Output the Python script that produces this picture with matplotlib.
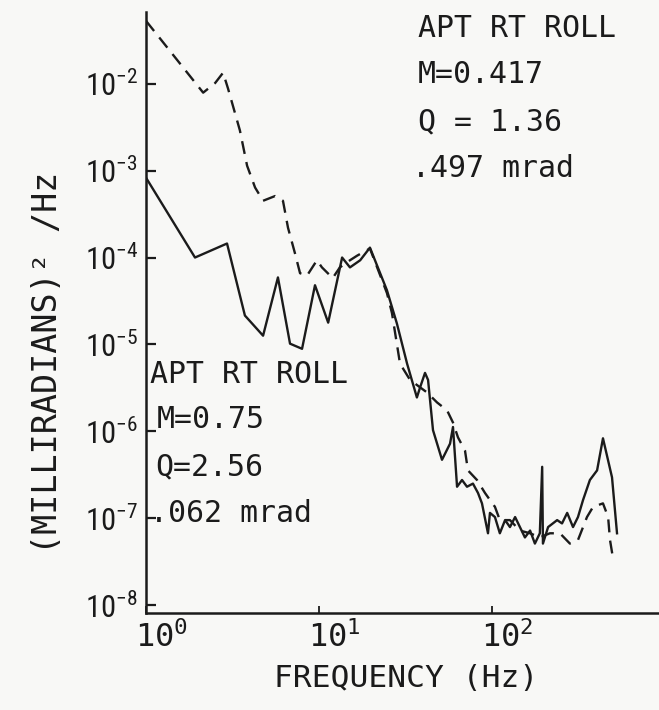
import matplotlib
matplotlib.use("Agg")
import matplotlib.pyplot as plt
import matplotlib.transforms as mtransforms
from matplotlib import font_manager
from matplotlib.ticker import NullLocator

# solid curve: M=0.75 run
freq_solid = [1.0, 1.92, 2.94, 3.73, 4.75, 5.79, 6.80, 7.98, 9.48, 11.3,
              13.6, 15.1, 17.3, 19.7, 24.7, 28.2, 32.3, 36.8, 38.4, 41.0,
              42.7, 45.6, 51.4, 57.2, 59.5, 62.8, 67.1, 71.7, 77.6, 83.0,
              87.5, 94.8, 97.3, 104, 111, 119, 127, 136, 145, 155,
              166, 177, 189, 195, 197, 211, 238, 254, 272, 294,
              314, 336, 368, 405, 438, 494, 528]
psd_solid = [8.3e-4, 1.0e-4, 1.45e-4, 2.15e-5, 1.26e-5, 5.9e-5, 1.02e-5, 8.9e-6, 4.8e-5, 1.78e-5,
             1.0e-4, 7.7e-5, 9.3e-5, 1.3e-4, 4.2e-5, 1.74e-5, 6.0e-6, 2.45e-6, 3.2e-6, 4.7e-6,
             3.9e-6, 1.03e-6, 4.7e-7, 7.2e-7, 1.12e-6, 2.3e-7, 2.75e-7, 2.3e-7, 2.5e-7, 1.95e-7,
             1.48e-7, 6.7e-8, 1.15e-7, 1.03e-7, 6.7e-8, 9.5e-8, 7.9e-8, 1.03e-7, 7.9e-8, 6.0e-8,
             7.2e-8, 5.1e-8, 6.7e-8, 3.9e-7, 5.1e-8, 7.9e-8, 9.5e-8, 8.7e-8, 1.15e-7, 7.9e-8,
             1.03e-7, 1.62e-7, 2.75e-7, 3.55e-7, 8.3e-7, 2.95e-7, 6.7e-8]

# dashed curve: M=0.417 run
freq_dash = [1.0, 2.14, 2.51, 2.79, 2.98, 3.49, 3.84, 4.27, 4.75, 5.57,
             6.19, 6.62, 7.27, 7.77, 8.53, 9.73, 10.4, 12.0, 13.2, 15.1,
             16.6, 19.7, 24.7, 26.4, 29.4, 33.6, 42.1, 48.1, 55.0, 59.5,
             63.6, 69.8, 72.6, 81.9, 91.1, 97.3, 104, 111, 127, 145,
             166, 189, 216, 247, 282, 314, 354, 384, 438, 469,
             481, 500]
psd_dash = [5.3e-2, 7.9e-3, 1.02e-2, 1.34e-2, 8.8e-3, 2.9e-3, 1.14e-3, 6.4e-4, 4.5e-4, 5.1e-4,
            4.5e-4, 2.2e-4, 1.11e-4, 6.6e-5, 6.2e-5, 9.3e-5, 7.7e-5, 5.8e-5, 7.7e-5, 9.3e-5,
            1.05e-4, 1.27e-4, 3.9e-5, 2.3e-5, 6.0e-6, 3.9e-6, 2.8e-6, 2.15e-6, 1.74e-6, 1.26e-6,
            8.5e-7, 6.0e-7, 3.55e-7, 2.75e-7, 1.95e-7, 1.62e-7, 1.35e-7, 9.5e-8, 9.5e-8, 7.2e-8,
            6.7e-8, 6.0e-8, 6.7e-8, 6.7e-8, 5.1e-8, 5.6e-8, 1.03e-7, 1.35e-7, 1.48e-7, 1.03e-7,
            5.6e-8, 3.5e-8]

xticks = [1, 10, 100]
yticks = [1e-8, 1e-7, 1e-6, 1e-5, 1e-4, 1e-3, 1e-2]

label_dash = ["APT RT ROLL", "M=0.417", "Q = 1.36", ".497 mrad"]
label_solid = ["APT RT ROLL", "M=0.75", "Q=2.56", ".062 mrad"]

ink = "#1b1b1b"
paper = "#f8f8f6"

installed = {f.name for f in font_manager.fontManager.ttflist}
mono = "DejaVu Sans Mono"
narrow = "Roboto Condensed" if "Roboto Condensed" in installed else "DejaVu Sans"

W, H = 659, 710
fig = plt.figure(figsize=(W / 100, H / 100), dpi=100, facecolor=paper)
ax = fig.add_axes([146 / W, 1 - 613 / H, 519 / W, 601 / H])
ax.set_facecolor(paper)

ax.plot(freq_solid, psd_solid, color=ink, lw=1.7)
ax.plot(freq_dash, psd_dash, color=ink, lw=1.7, dashes=(5.5, 3.5))

ax.set_xscale("log")
ax.set_yscale("log")
ax.set_xlim(1, 1000)
ax.set_ylim(8.1e-9, 0.067)
ax.set_xticks(xticks)
ax.set_yticks(yticks)
ax.xaxis.set_minor_locator(NullLocator())
ax.yaxis.set_minor_locator(NullLocator())

for s in ["top", "right"]:
    ax.spines[s].set_visible(False)
for s in ["left", "bottom"]:
    ax.spines[s].set_linewidth(1.8)
    ax.spines[s].set_color(ink)

ax.tick_params(axis="y", direction="in", length=7, width=1.6, color=ink,
               labelsize=22, labelcolor=ink, pad=6, labelfontfamily=narrow)
ax.tick_params(axis="x", direction="in", length=5, width=1.3, color=ink,
               labelsize=23, labelcolor=ink, pad=6, labelfontfamily=mono)

# x tick labels sit a little right of their ticks in the original
offset = mtransforms.ScaledTranslation(0.15, 0, fig.dpi_scale_trans)
for lbl in ax.get_xticklabels():
    lbl.set_transform(lbl.get_transform() + offset)

fig.text(406 / W, 1 - 687 / H, "FREQUENCY (Hz)", ha="center", va="baseline",
         fontsize=22.5, family=mono, color=ink)
fig.text(48 / W, 1 - 363 / H, "(MILLIRADIANS)\u00b2 /Hz", ha="center", va="center",
         rotation=90, fontsize=24, family=mono, color=ink)

# annotation blocks
ux = [418, 418, 418, 412]
uy = [37, 83, 130, 177]
for t, x, y in zip(label_dash, ux, uy):
    fig.text(x / W, 1 - y / H, t, ha="left", va="baseline", fontsize=21.5,
             family=mono, color=ink)

lx = [150, 157, 155, 150]
ly = [383, 428, 475, 522]
for t, x, y in zip(label_solid, lx, ly):
    fig.text(x / W, 1 - y / H, t, ha="left", va="baseline", fontsize=21.5,
             family=mono, color=ink)

fig.savefig("out.png", dpi=100, facecolor=paper)
